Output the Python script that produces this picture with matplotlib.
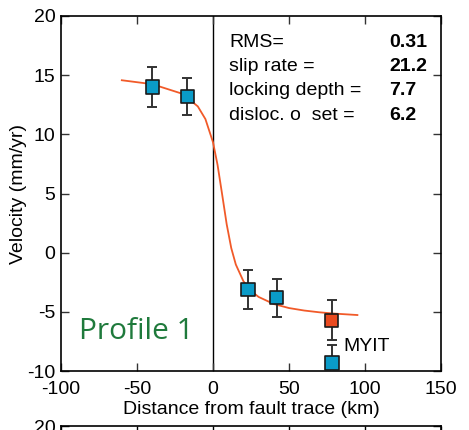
import matplotlib.pyplot as plt
import numpy as np

plt.rcParams['font.family'] = ['Liberation Sans', 'DejaVu Sans']
plt.rcParams['axes.unicode_minus'] = False

# GPS velocities (distance km, velocity mm/yr, 1-sigma)
dist = [-40, -17, 23, 42, 78]
vel = [14.0, 13.2, -3.1, -3.8, -5.7]
err = [1.65, 1.6, 1.65, 1.6, 1.7]
colors = ['#0a9bc8', '#0a9bc8', '#0a9bc8', '#0a9bc8', '#ea4a1f']

# MYIT (outlier, not used in fit)
myit_dist = [78]
myit_vel = [-9.3]
myit_err = [1.5]

# model curve
curve_x = [-60, -40, -20, -10, -5, 0, 3, 6, 9, 12, 15, 20, 25, 30, 40, 50, 60, 70, 80, 95]
curve_v = [14.57, 14.24, 13.42, 12.36, 11.29, 9.33, 7.41, 4.93, 2.40, 0.39, -1.00,
           -2.41, -3.23, -3.74, -4.34, -4.68, -4.89, -5.04, -5.15, -5.27]

param_names = ['RMS=', 'slip rate =', 'locking depth =', 'disloc. o  set =']
param_vals = ['0.31', '21.2', '7.7', '6.2']

FS = 14

fig = plt.figure(figsize=(4.69, 4.30), dpi=100)
ax = fig.add_axes([0.1301, 0.1372, 0.8102, 0.8256])

ax.axvline(0, color='black', lw=1.0, zorder=1)
ax.plot(curve_x, curve_v, color='#f15a29', lw=1.3, zorder=2)

ax.errorbar(dist, vel, yerr=err, fmt='none', ecolor='#333333', elinewidth=1.4,
            capsize=3.5, capthick=1.4, zorder=3)
ax.errorbar(myit_dist, myit_vel, yerr=myit_err, fmt='none', ecolor='#333333',
            elinewidth=1.4, capsize=3.5, capthick=1.4, zorder=3)
ax.scatter(dist, vel, marker='s', s=90, c=colors, edgecolors='#1a1a1a',
           linewidths=1.2, zorder=4)
ax.scatter(myit_dist, myit_vel, marker='s', s=90, c='#0a9bc8',
           edgecolors='#1a1a1a', linewidths=1.2, zorder=4, clip_on=False)

ax.set_xlim(-100, 150)
ax.set_ylim(-10, 20)
ax.set_xticks([-100, -50, 0, 50, 100, 150])
ax.set_yticks([-10, -5, 0, 5, 10, 15, 20])
ax.tick_params(direction='in', top=True, right=True, length=6, width=1,
               labelsize=FS, pad=4, colors='#333333', labelcolor='black')
ax.tick_params(axis='x', pad=7.5)
for s in ax.spines.values():
    s.set_linewidth(1.2)
ax.set_xlabel('Distance from fault trace (km)', fontsize=FS, labelpad=2)
ax.set_ylabel('Velocity (mm/yr)', fontsize=FS, labelpad=0)

for i, (n, v) in enumerate(zip(param_names, param_vals)):
    y = 0.925 - i * 0.068
    ax.text(0.442, y, n, transform=ax.transAxes, fontsize=FS, va='center')
    ax.text(0.864, y, v, transform=ax.transAxes, fontsize=FS, va='center',
            fontweight='bold')

ax.text(0.048, 0.09, 'Profile 1', transform=ax.transAxes, fontsize=21.5,
        color='#1f7a3c', family=['Open Sans', 'DejaVu Sans'])
ax.text(0.744, 0.055, 'MYIT', transform=ax.transAxes, fontsize=FS)

# top of the next panel below
ax2 = fig.add_axes([0.1301, 0.0093 - 0.8256, 0.8102, 0.8256])
ax2.set_xlim(-100, 150)
ax2.set_ylim(-10, 20)
ax2.set_xticks([-100, -50, 0, 50, 100, 150])
ax2.set_xticklabels([])
ax2.set_yticks([20])
ax2.tick_params(direction='in', top=True, right=True, length=6, width=1,
                labelsize=FS, pad=4)
for s in ax2.spines.values():
    s.set_linewidth(1.2)

fig.savefig('out.png', dpi=100)
